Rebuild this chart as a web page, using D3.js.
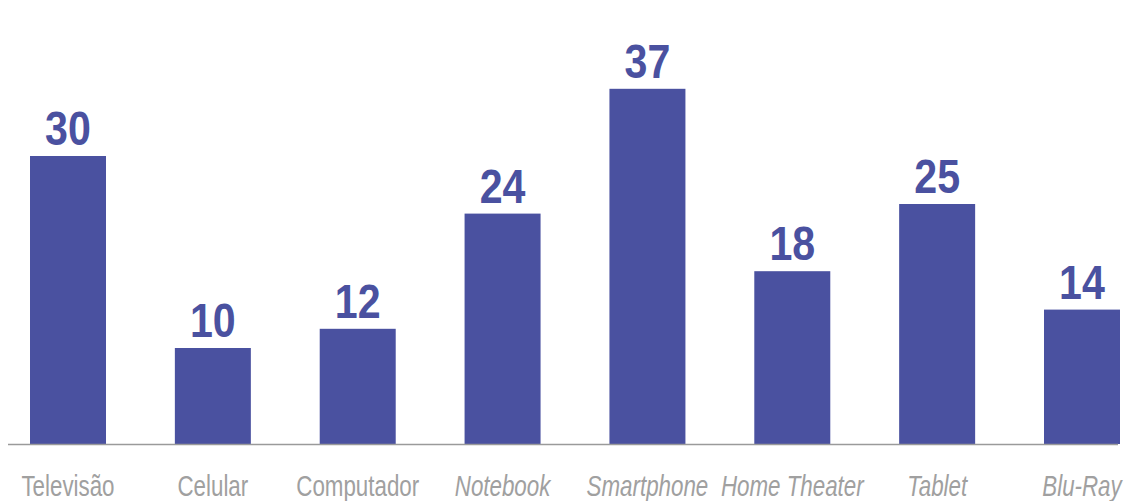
<!DOCTYPE html>
<html>
<head>
<meta charset="utf-8">
<script src="https://cdn.jsdelivr.net/npm/d3@7"></script>
<style>
  html, body { margin: 0; padding: 0; background: #ffffff; }
  svg { display: block; }
</style>
</head>
<body>
<svg id="chart" width="1126" height="501"></svg>
<script>
// Product categories and their values
const categories = ["Televisão", "Celular", "Computador", "Notebook", "Smartphone", "Home Theater", "Tablet", "Blu-Ray"];
const values = [30, 10, 12, 24, 37, 18, 25, 14];
// Categories whose label is set in italics
const italicCategories = ["Notebook", "Smartphone", "Home Theater", "Tablet", "Blu-Ray"];

const data = categories.map((c, i) => ({ category: c, value: values[i] }));

const svg = d3.select("#chart");
const baseline = 444;
const fontStack = "'Liberation Sans', Arial, sans-serif";

const x = d3.scaleBand()
  .domain(categories)
  .range([30, 1120])
  .paddingInner(0.4754)
  .paddingOuter(0);

const y = d3.scaleLinear()
  .domain([0, 37])
  .range([baseline, baseline - 37 * 9.6]);

const barColor = "#4a51a0";

// Bars
svg.append("g")
  .selectAll("rect")
  .data(data)
  .join("rect")
  .attr("x", d => x(d.category))
  .attr("y", d => y(d.value))
  .attr("width", x.bandwidth())
  .attr("height", d => y(0) - y(d.value))
  .attr("fill", barColor);

// Value labels above bars, horizontally condensed
svg.append("g")
  .selectAll("text")
  .data(data)
  .join("text")
  .attr("transform", d => `translate(${x(d.category) + x.bandwidth() / 2},${y(d.value) - 11}) scale(0.84,1)`)
  .attr("text-anchor", "middle")
  .attr("font-family", fontStack)
  .attr("font-weight", "bold")
  .attr("font-size", 49)
  .attr("fill", barColor)
  .text(d => d.value);

// Baseline axis with category labels
const axis = d3.axisBottom(x).tickSize(0).tickPadding(0);
const axisG = svg.append("g")
  .attr("transform", `translate(0,${baseline + 0.5})`)
  .call(axis);

axisG.select(".domain")
  .attr("d", "M8,0H1118")
  .attr("stroke", "#9a9a9a")
  .attr("stroke-width", 1.6);

axisG.selectAll(".tick text")
  .attr("y", 0)
  .attr("dy", 0)
  .attr("transform", "translate(0,51) scale(0.77,1)")
  .attr("font-family", fontStack)
  .attr("font-size", 29)
  .attr("fill", "#a0a0a0")
  .attr("font-style", d => italicCategories.includes(d) ? "italic" : "normal");
</script>
</body>
</html>
